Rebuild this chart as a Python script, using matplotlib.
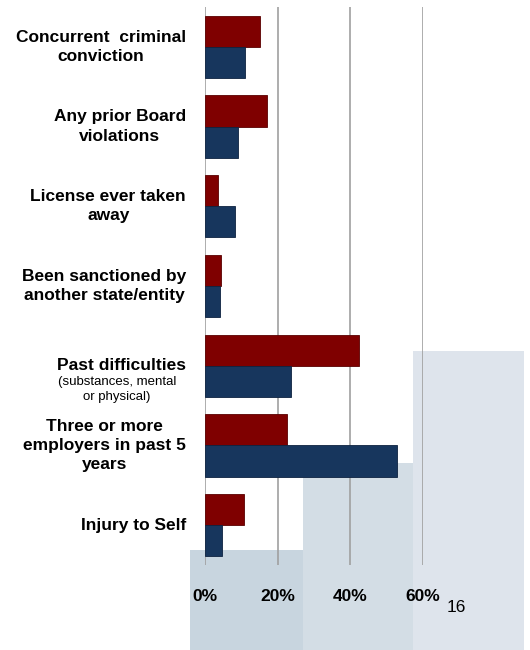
import numpy as np
import matplotlib
matplotlib.use( 'Agg' )
from matplotlib import pyplot as plt
from matplotlib.patches import Rectangle

#------------------------------------------------------------------
# Data (percent).
#
categories = [ 'Concurrent  criminal\nconviction',
               'Any prior Board\nviolations',
               'License ever taken\naway',
               'Been sanctioned by\nanother state/entity',
               'Past difficulties',
               'Three or more\nemployers in past 5\nyears',
               'Injury to Self' ]
sub_note = '(substances, mental\nor physical)'
red_vals  = [ 15.0, 17.0, 3.5, 4.3, 42.4, 22.6, 10.6 ]
blue_vals = [ 11.0, 9.1, 8.3, 4.2, 23.6, 52.8, 4.8 ]
x_ticks = [ 0, 20, 40, 60 ]
page_no = '16'

RED = '#7f0000'
BLUE = '#17365d'
W, H = 530, 650

plt.rcParams[ 'font.family' ] = [ 'Liberation Sans', 'DejaVu Sans' ]

fig = plt.figure( figsize = ( W / 100, H / 100 ), dpi = 100 )
fig.patch.set_facecolor( 'white' )

# Decorative stepped background blocks (figure pixels).
for x0, x1, top, col in [ ( 190, 303, 550, '#c8d5df' ),
                          ( 303, 413, 463, '#d3dde5' ),
                          ( 413, 524, 351, '#dee4ec' ) ]:
    fig.patches.append( Rectangle( ( x0 / W, 0 ), ( x1 - x0 ) / W, ( H - top ) / H,
                                   transform = fig.transFigure, facecolor = col,
                                   edgecolor = 'none', zorder = -5 ) )

ax = fig.add_axes( [ 205 / W, 1 - 565 / H, ( 423 - 205 ) / W, ( 565 - 7 ) / H ] )
ax.set_facecolor( 'none' )
ax.set_zorder( 2 )

y = np.arange( len( categories ) )
bh = 0.39
ax.barh( y - bh / 2, red_vals, height = bh, color = RED, edgecolor = '#5a0000',
         linewidth = 0.6, zorder = 3 )
ax.barh( y + bh / 2, blue_vals, height = bh, color = BLUE, edgecolor = '#0d2240',
         linewidth = 0.6, zorder = 3 )

ax.set_xlim( 0, 60 )
ax.set_ylim( len( categories ) - 0.5, -0.5 )
for s in ax.spines.values():
    s.set_visible( False )
ax.set_xticks( x_ticks )
ax.set_xticklabels( [ f'{t}%' for t in x_ticks ], fontsize = 12.5, fontweight = 'bold' )
ax.tick_params( axis = 'x', length = 0, pad = 17 )
ax.set_yticks( [] )
ax.grid( axis = 'x', color = '#a0a0a0', linewidth = 1.2, zorder = 1 )
ax.set_axisbelow( True )

# Category labels, right edge at the same x, lines centred.
px = 60 / 218
for i, lab in enumerate( categories ):
    ax.text( -19 * px, i, lab, ha = 'right', va = 'center', ma = 'center',
             fontsize = 12.5, fontweight = 'bold', linespacing = 1.35 )
ax.text( -88 * px, 4 + 0.13, sub_note, ha = 'center', va = 'top',
         fontsize = 9.5, linespacing = 1.35 )

fig.text( 447 / W, 1 - 608 / H, page_no, ha = 'left', va = 'center', fontsize = 12.5 )

fig.savefig( 'out.png', dpi = 100 )
